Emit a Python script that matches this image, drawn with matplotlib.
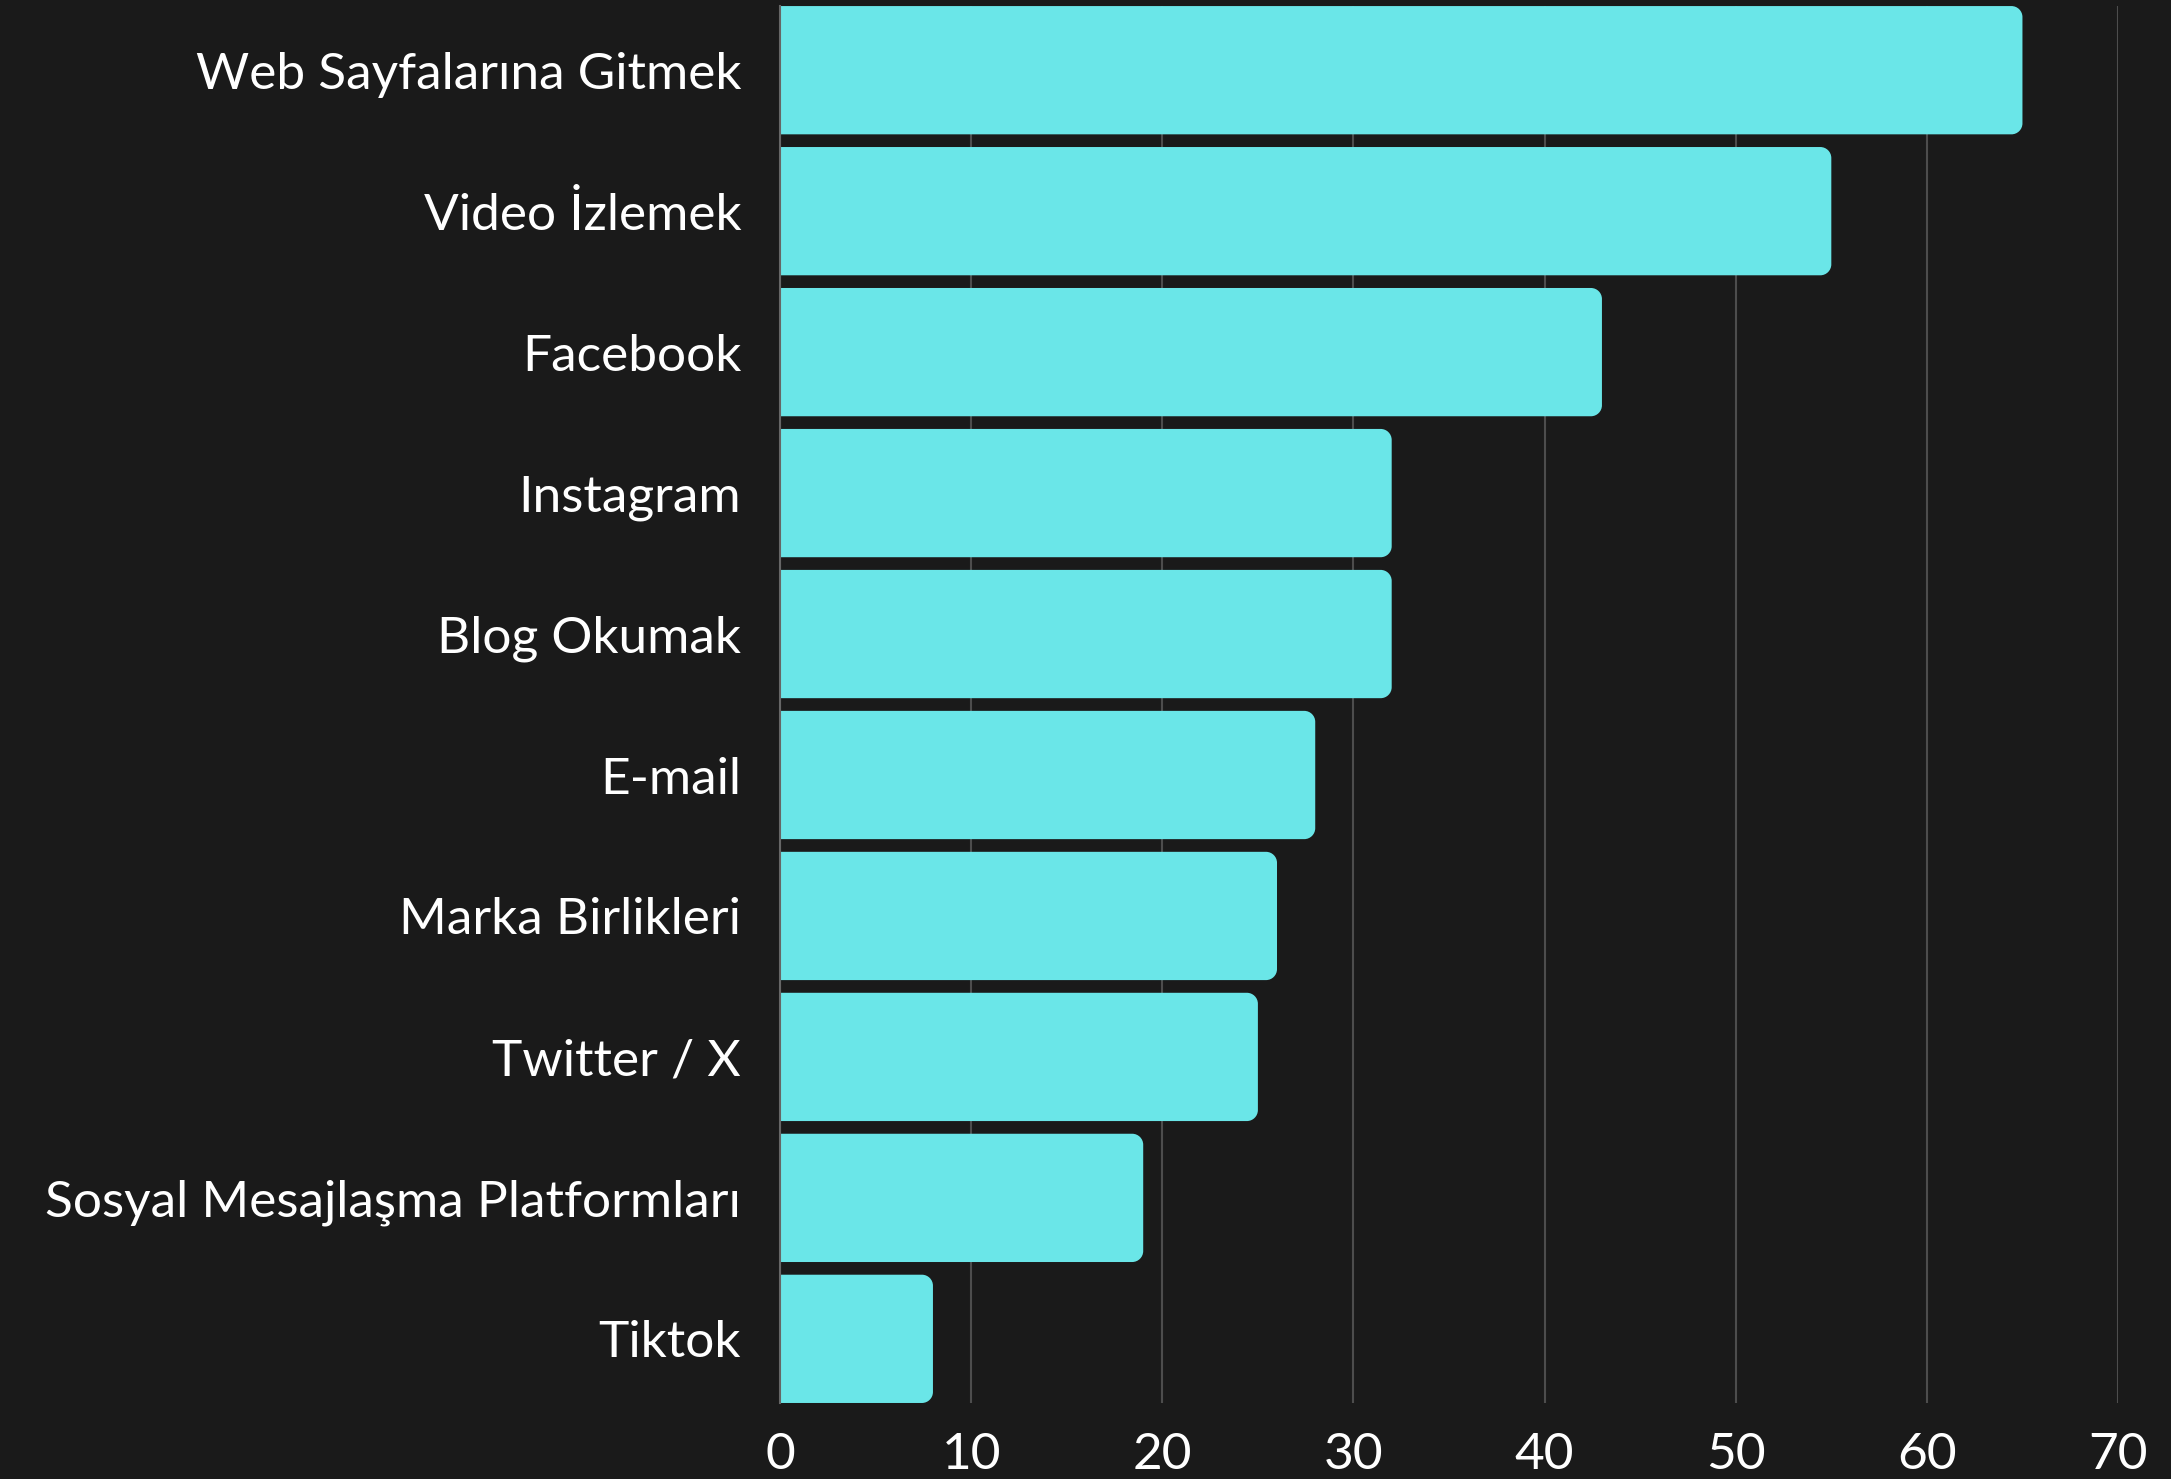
import matplotlib
matplotlib.use("Agg")
import matplotlib.pyplot as plt
from matplotlib.path import Path
from matplotlib.patches import PathPatch

categories = ["Web Sayfalarına Gitmek", "Video İzlemek", "Facebook", "Instagram",
              "Blog Okumak", "E-mail", "Marka Birlikleri", "Twitter / X",
              "Sosyal Mesajlaşma Platformları", "Tiktok"]
values = [65, 55, 43, 32, 32, 28, 26, 25, 19, 8]
xticks = [0, 10, 20, 30, 40, 50, 60, 70]

BG = "#1a1a1a"
BAR = "#6ae6e8"
GRID = "#4d4d4d"

plt.rcParams['font.family'] = ['Lato', 'DejaVu Sans']

fig = plt.figure(figsize=(21.71, 14.79), dpi=100, facecolor=BG)
ax = fig.add_axes([0.3593, 0.0514, 0.6163, 0.9445])
ax.set_facecolor(BG)

n = len(categories)
ypos = list(range(n))
bh = 0.91
bars = ax.barh(ypos, values, height=bh, color=BAR, zorder=3)
ax.set_xlim(0, 70)
ax.set_ylim(n - 1 + bh / 2, -bh / 2)

# rounded right corners (radius ~11 px)
fig.canvas.draw()
bbox = ax.get_window_extent()
px_per_x = bbox.width / 70.0
px_per_y = bbox.height / (n - 1 + bh)
r_px = 11
rx = r_px / px_per_x
ry = r_px / px_per_y
k = 0.5523
for b in bars:
    x0, y0 = b.get_x(), b.get_y()
    w, h = b.get_width(), b.get_height()
    x1, y1 = x0 + w, y0 + h
    verts = [
        (x0, y0),
        (x1 - rx, y0),
        (x1 - rx + k * rx, y0), (x1, y0 + ry - k * ry), (x1, y0 + ry),
        (x1, y1 - ry),
        (x1, y1 - ry + k * ry), (x1 - rx + k * rx, y1), (x1 - rx, y1),
        (x0, y1),
        (x0, y0),
    ]
    codes = [Path.MOVETO, Path.LINETO,
             Path.CURVE4, Path.CURVE4, Path.CURVE4,
             Path.LINETO,
             Path.CURVE4, Path.CURVE4, Path.CURVE4,
             Path.LINETO, Path.CLOSEPOLY]
    ax.add_patch(PathPatch(Path(verts, codes), facecolor=BAR, edgecolor='none', zorder=3))
    b.set_visible(False)

ax.set_xticks(xticks)
ax.set_xticklabels([str(t) for t in xticks])
ax.set_yticks(ypos)
ax.set_yticklabels(categories)

ax.xaxis.grid(True, color=GRID, linewidth=1.5, zorder=0)
ax.yaxis.grid(False)
for s in ["top", "right", "bottom"]:
    ax.spines[s].set_visible(False)
ax.spines["left"].set_color("#666666")
ax.spines["left"].set_linewidth(1.5)
ax.spines["left"].set_zorder(4)

ax.tick_params(axis='y', length=0, pad=28, labelsize=37, labelcolor='white')
ax.tick_params(axis='x', length=0, pad=21, labelsize=37, labelcolor='white')

fig.savefig("out.png", dpi=100, facecolor=BG)
